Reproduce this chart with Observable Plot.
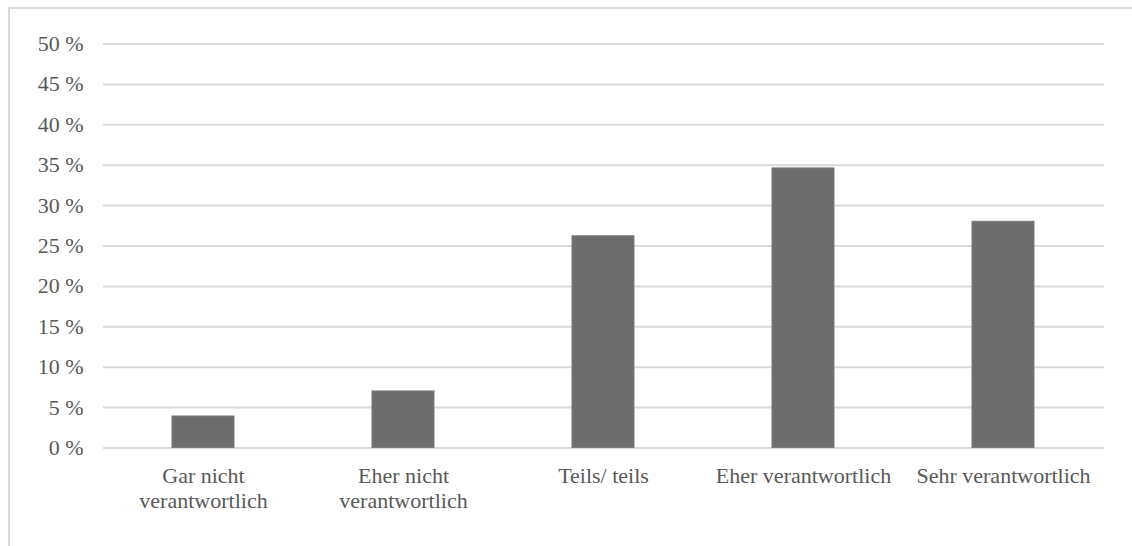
<!DOCTYPE html>
<html>
<head>
<meta charset="utf-8">
<script src="https://cdn.jsdelivr.net/npm/d3@7"></script>
<script src="https://cdn.jsdelivr.net/npm/@observablehq/plot@0.6"></script>
<style>
  html, body { margin: 0; padding: 0; background: #fff; }
  #wrap { position: relative; width: 1132px; height: 546px; overflow: hidden; }
  #frame { position: absolute; left: 8px; top: 7px; width: 1200px; height: 600px;
           border-top: 2px solid #d9d9d9; border-left: 2px solid #d9d9d9; }
  #chart { position: absolute; left: 0; top: 0; }
</style>
</head>
<body>
<div id="wrap"><div id="frame"></div><div id="chart"></div></div>
<script>
const categories = ["Gar nicht\nverantwortlich", "Eher nicht\nverantwortlich", "Teils/ teils", "Eher verantwortlich", "Sehr verantwortlich"];
const values = [3.9, 7.0, 26.2, 34.6, 28.0];
const yTicks = [0, 5, 10, 15, 20, 25, 30, 35, 40, 45, 50];

const data = categories.map((c, i) => ({category: c, value: values[i]}));
const font = "'Liberation Serif', 'Times New Roman', serif";

const chart = Plot.plot({
  width: 1132,
  height: 546,
  marginLeft: 103,
  marginRight: 28,
  marginTop: 43.5,
  marginBottom: 98.5,
  style: {fontFamily: font, background: "transparent", color: "#595959"},
  x: {domain: categories, paddingInner: 0.69, paddingOuter: 0.345, align: 0.5},
  y: {domain: [0, 50]},
  marks: [
    Plot.gridY(yTicks, {stroke: "#d9d9d9", strokeOpacity: 1, strokeWidth: 2}),
    Plot.barY(data, {x: "category", y: "value", fill: "#6d6d6d", stroke: "#7a7a7a", strokeWidth: 1}),
    Plot.axisY(yTicks, {tickSize: 0, tickPadding: 20, tickFormat: d => d + " %", fontSize: 22, fill: "#595959", label: null}),
    Plot.axisX({tickSize: 0, tickPadding: 17, fontSize: 22, lineHeight: 1.14, fill: "#595959", label: null, style: {letterSpacing: "0.3px"}})
  ]
});
document.getElementById("chart").appendChild(chart);
</script>
</body>
</html>
